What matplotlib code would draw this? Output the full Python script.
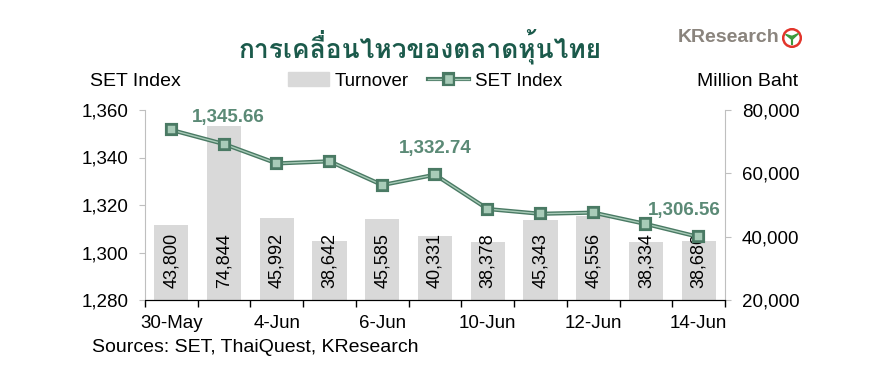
import numpy as np
import matplotlib
matplotlib.use("Agg")
from matplotlib import pyplot as plt
from matplotlib import font_manager, ft2font
from matplotlib.lines import Line2D
from matplotlib.patches import Patch, Circle, Polygon
import matplotlib.patheffects as pe

# data
dates = ["30-May", "31-May", "4-Jun", "5-Jun", "6-Jun", "7-Jun",
         "10-Jun", "11-Jun", "12-Jun", "13-Jun", "14-Jun"]
turnover = [43800, 74844, 45992, 38642, 45585, 40331,
            38378, 45343, 46556, 38334, 38680]
set_index = [1351.6, 1345.66, 1337.5, 1338.4, 1328.4, 1332.74,
             1318.3, 1316.3, 1316.8, 1312.0, 1306.56]
labelled = [1, 5, 10]
label_dx = [3, 0, -10]

left_ticks = [1280, 1300, 1320, 1340, 1360]
right_ticks = [20000, 40000, 60000, 80000]


def thai_family():
    # find any installed font that has Thai glyphs
    for f in font_manager.fontManager.ttflist:
        try:
            if 0x0E01 in ft2font.FT2Font(f.fname).get_charmap():
                return f.name
        except Exception:
            pass
    return "DejaVu Sans"


plt.rcParams["font.family"] = ["Liberation Sans", "DejaVu Sans"]
plt.rcParams["font.size"] = 13.5

dark = "#4a7a64"
light = "#a8cbb8"
ann_col = "#5b8a76"
grey_sp = "#bfbfbf"

fig = plt.figure(figsize=(8.7, 3.82), dpi=100)
ax = fig.add_axes([145/870, 1-300/382, 580/870, 190/382])
ax2 = ax.twinx()

x = np.arange(len(dates))
ax2.bar(x, np.array(turnover) - 20000, bottom=20000, width=0.65, color="#d9d9d9")
for i, v in enumerate(turnover):
    ax2.text(i, 23700, "{:,}".format(v), rotation=90, ha="center", va="bottom",
             fontsize=13)
ax2.set_ylim(20000, 80000)
ax2.set_yticks(right_ticks, ["{:,}".format(t) for t in right_ticks])

ax.plot(x, set_index, color=light, lw=1.0, marker="s", ms=6.5,
        mfc=light, mec=dark, mew=1.1, zorder=3,
        path_effects=[pe.Stroke(linewidth=3.0, foreground=dark), pe.Normal()])
for k, i in enumerate(labelled):
    ax.annotate("{:,.2f}".format(set_index[i]), (i, set_index[i]),
                xytext=(label_dx[k], 19), textcoords="offset points",
                ha="center", va="center", fontsize=13.5, weight="bold",
                color=ann_col)
ax.set_ylim(1280, 1360)
ax.set_yticks(left_ticks, ["{:,}".format(t) for t in left_ticks])
ax.set_zorder(ax2.get_zorder() + 1)
ax.patch.set_visible(False)

ax.set_xlim(-0.5, len(dates) - 0.5)
ax.set_xticks(np.arange(-0.5, len(dates), 1), [""] * (len(dates) + 1))
ax.set_xticks(x[::2], dates[::2], minor=True)
ax.tick_params(axis="x", which="major", length=5, width=1, color="black")
ax.tick_params(axis="x", which="minor", length=0, pad=11)
ax.tick_params(axis="y", length=4, color=grey_sp, pad=8)
ax2.tick_params(axis="y", length=4, color=grey_sp, pad=8)

for a in (ax, ax2):
    a.spines["top"].set_visible(False)
    a.spines["bottom"].set_color("black")
ax.spines["right"].set_visible(False)
ax2.spines["left"].set_visible(False)
ax.spines["left"].set_color(grey_sp)
ax2.spines["right"].set_color(grey_sp)

fig.text(420/870, 1-47/382, "การเคลื่อนไหวของตลาดหุ้นไทย", ha="center", va="center",
         fontsize=19, weight="bold", color="#1b5a4b",
         family=[thai_family(), "DejaVu Sans"])
fig.text(90/870, 1-81/382, "SET Index", ha="left", va="center", fontsize=14)
fig.text(798/870, 1-81/382, "Million Baht", ha="right", va="center", fontsize=14)
fig.text(92/870, 1-347/382, "Sources: SET, ThaiQuest, KResearch",
         ha="left", va="center", fontsize=14)

handles = [Patch(color="#d9d9d9"),
           Line2D([], [], color=light, lw=1.0, marker="s", ms=6.5, mfc=light,
                  mec=dark, path_effects=[pe.Stroke(linewidth=3.0, foreground=dark),
                                          pe.Normal()])]
fig.legend(handles, ["Turnover", "SET Index"], loc="center",
           bbox_to_anchor=(425/870, 1-81/382), ncol=2, frameon=False,
           fontsize=13.5, handlelength=2.2, handletextpad=0.3, columnspacing=1.0)

# KResearch logo
fig.text(729/870, 1-38/382, "KResearch", ha="center", va="center",
         fontsize=14, weight="bold", color="#8a847d")
lg = fig.add_axes([782/870, 1-48/382, 20/870, 20/382])
lg.set_xlim(0, 1)
lg.set_ylim(0, 1)
lg.set_aspect("equal")
lg.axis("off")
lg.add_patch(Circle((0.5, 0.5), 0.44, fill=False, ec="#e2352b", lw=1.8))
lg.add_patch(Polygon([(0.18, 0.68), (0.5, 0.42), (0.5, 0.58)], color="#3c9a3c"))
lg.add_patch(Polygon([(0.82, 0.72), (0.5, 0.42), (0.5, 0.58)], color="#3c9a3c"))
lg.plot([0.5, 0.5], [0.2, 0.45], color="#3c9a3c", lw=1.5)

fig.savefig("out.png", dpi=100)
